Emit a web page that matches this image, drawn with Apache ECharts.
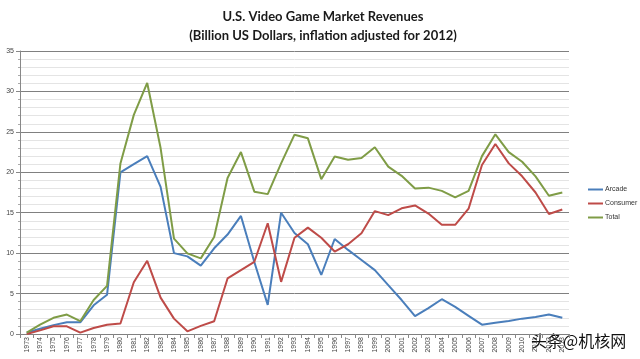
<!DOCTYPE html>
<html>
<head>
<meta charset="utf-8">
<script src="https://cdn.jsdelivr.net/npm/echarts@6/dist/echarts.min.js"></script>
<style>html,body{margin:0;padding:0;background:#fff}#c{width:640px;height:359px}</style>
</head>
<body>
<div id="c"></div>
<script>
var years = ['1973','1974','1975','1976','1977','1978','1979','1980','1981','1982',
  '1983','1984','1985','1986','1987','1988','1989','1990','1991','1992',
  '1993','1994','1995','1996','1997','1998','1999','2000','2001','2002',
  '2003','2004','2005','2006','2007','2008','2009','2010','2011','2012','2013'];
var arcade = [0.15,0.65,1.1,1.45,1.45,3.55,4.85,20.0,21.0,22.0,
  18.2,10.0,9.6,8.45,10.6,12.3,14.6,8.9,3.6,15.0,
  12.5,11.1,7.3,11.75,10.4,9.15,7.9,6.05,4.2,2.2,
  3.2,4.3,3.35,2.25,1.15,1.4,1.6,1.9,2.1,2.4,2.0];
var consumer = [0.0,0.45,0.95,0.95,0.17,0.75,1.15,1.3,6.4,9.05,
  4.5,1.9,0.33,1.0,1.58,6.87,7.9,8.93,13.7,6.45,
  11.9,13.15,11.9,10.2,11.1,12.45,15.2,14.7,15.55,15.9,
  14.9,13.5,13.5,15.5,20.9,23.5,21.1,19.5,17.5,14.85,15.4];
var total = [0.17,1.15,2.0,2.4,1.58,4.2,5.95,21.1,27.1,31.05,
  23.0,11.8,9.97,9.35,12.0,19.3,22.5,17.6,17.3,21.1,
  24.65,24.2,19.15,21.96,21.55,21.76,23.1,20.7,19.56,18.0,
  18.1,17.7,16.9,17.7,22.0,24.7,22.5,21.3,19.5,17.1,17.5];
var titleLines = ['U.S. Video Game Market Revenues', '(Billion US Dollars, inflation adjusted for 2012)'];

var chart = echarts.init(document.getElementById('c'));
function line(name, data, color) {
  return {name: name, type: 'line', data: data, symbol: 'none', smooth: false,
    lineStyle: {color: color, width: 2}, itemStyle: {color: color}};
}
chart.setOption({
  animation: false,
  title: {
    text: titleLines.join('\n'), left: 318, top: 2, textAlign: 'center',
    textStyle: {fontFamily: 'Lato', fontWeight: 'bold', fontSize: 13, color: '#1a1a1a', lineHeight: 19}
  },
  legend: {
    orient: 'vertical', left: 583, top: 181, itemWidth: 15, itemHeight: 2, itemGap: 7,
    icon: 'rect',
    textStyle: {fontFamily: 'Liberation Sans', fontSize: 7, color: '#333', padding: [0,0,0,-3]},
    data: ['Arcade', 'Consumer', 'Total']
  },
  grid: {left: 20, right: 71, top: 51, bottom: 25},
  xAxis: {
    type: 'category', data: years, boundaryGap: true,
    axisLine: {lineStyle: {color: '#808080'}},
    axisTick: {show: true, length: 4, lineStyle: {color: '#888'}, alignWithLabel: false},
    axisLabel: {rotate: 90, interval: 0, fontSize: 7, color: '#444', margin: 3, fontFamily: 'Liberation Sans'}
  },
  yAxis: {
    type: 'value', min: 0, max: 35, interval: 5,
    axisLine: {show: true, lineStyle: {color: '#888'}},
    axisTick: {show: true, length: 4, lineStyle: {color: '#888'}},
    minorTick: {show: true, splitNumber: 5, length: 2, lineStyle: {color: '#aaa'}},
    axisLabel: {fontSize: 7, color: '#444', margin: 6, fontFamily: 'Liberation Sans'},
    splitLine: {show: true, lineStyle: {color: '#808080', width: 1}},
    minorSplitLine: {show: true, lineStyle: {color: '#e4e4e4', width: 1}}
  },
  series: [
    line('Arcade', arcade, '#4a7ebb'),
    line('Consumer', consumer, '#be4b48'),
    line('Total', total, '#7f9c46')
  ],
  graphic: [{
    type: 'text', left: 530, top: 332,
    style: {text: '头条@机核网', fontFamily: 'Noto Sans CJK SC', fontSize: 16, fill: '#111',
      stroke: '#fff', lineWidth: 2}
  }]
});
</script>
</body>
</html>
